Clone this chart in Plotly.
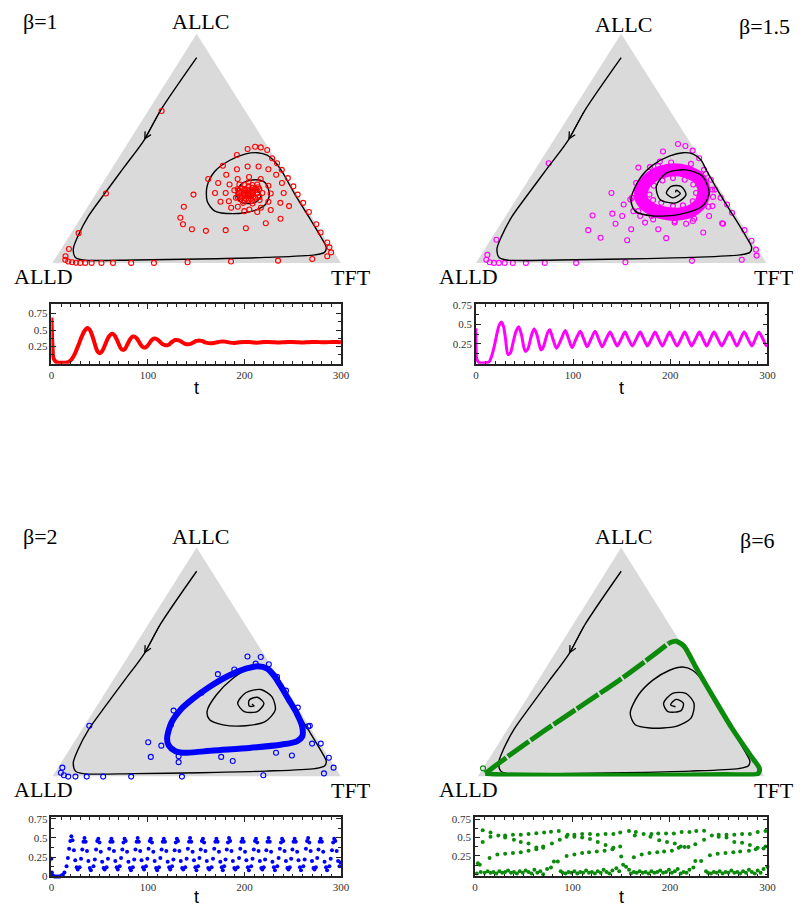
import plotly.graph_objects as go

# ---------------------------------------------------------------
# simplex data, every point is (share of ALLC, share of TFT);
# the share of ALLD is the remainder
# ---------------------------------------------------------------
corners = [(0.0, 0.0), (0.0, 1.0), (1.0, 0.0), (0.0, 0.0)]  # ALLD, TFT, ALLC

# deterministic orbit: common first arm (starts near ALLC)
arm = [(0.896, 0.052), (0.666, 0.042), (0.536, 0.05), (0.421, 0.04), (0.305, 0.03),
       (0.205, 0.023), (0.118, 0.03), (0.061, 0.042), (0.024, 0.068), (0.013, 0.10),
       (0.013, 0.278), (0.017, 0.503), (0.024, 0.727), (0.035, 0.892), (0.046, 0.92),
       (0.068, 0.915), (0.111, 0.876), (0.205, 0.784), (0.298, 0.692), (0.399, 0.596)]

spiral_b1 = [(0.438, 0.554), (0.470, 0.509), (0.481, 0.470), (0.476, 0.432), (0.447, 0.390),
             (0.399, 0.363), (0.334, 0.369), (0.269, 0.402), (0.226, 0.45), (0.215, 0.517),
             (0.226, 0.58), (0.255, 0.611), (0.298, 0.603), (0.349, 0.564), (0.363, 0.523),
             (0.349, 0.485), (0.305, 0.484), (0.265, 0.52), (0.262, 0.568), (0.291, 0.577),
             (0.320, 0.545), (0.313, 0.519), (0.291, 0.53), (0.300, 0.535)]

spiral_b15 = [(0.450, 0.549), (0.476, 0.508), (0.481, 0.472), (0.467, 0.434), (0.428, 0.396),
              (0.370, 0.38), (0.277, 0.395), (0.226, 0.435), (0.205, 0.508), (0.212, 0.595),
              (0.248, 0.656), (0.305, 0.65), (0.378, 0.591), (0.406, 0.52), (0.392, 0.459),
              (0.334, 0.454), (0.277, 0.495), (0.262, 0.558), (0.298, 0.574), (0.334, 0.539),
              (0.334, 0.505), (0.305, 0.503), (0.284, 0.536), (0.303, 0.552), (0.317, 0.531),
              (0.308, 0.533)]

spiral_b2 = [(0.45, 0.548), (0.481, 0.487), (0.471, 0.446), (0.428, 0.411), (0.356, 0.39),
             (0.284, 0.394), (0.248, 0.421), (0.226, 0.478), (0.222, 0.559), (0.241, 0.618),
             (0.291, 0.627), (0.349, 0.586), (0.380, 0.532), (0.366, 0.487), (0.320, 0.482),
             (0.284, 0.523), (0.284, 0.568), (0.320, 0.573), (0.346, 0.537), (0.334, 0.515),
             (0.308, 0.528), (0.308, 0.545), (0.317, 0.533)]

spiral_b6 = [(0.464, 0.517), (0.478, 0.475), (0.464, 0.437), (0.421, 0.4), (0.356, 0.382),
             (0.277, 0.393), (0.226, 0.436), (0.212, 0.494), (0.219, 0.582), (0.255, 0.616),
             (0.32, 0.594), (0.363, 0.544), (0.363, 0.498), (0.32, 0.488), (0.284, 0.521),
             (0.288, 0.565), (0.32, 0.557), (0.337, 0.523), (0.313, 0.516), (0.305, 0.537)]

# stochastic simulation, beta = 1 (red circles)
sim_b1 = [(0.663, 0.047), (0.303, 0.034), (0.130, 0.026), (0.061, 0.027), (0.029, 0.031),
          (0.014, 0.038), (0.006, 0.052), (0.003, 0.067), (0.001, 0.081), (0.0, 0.097),
          (0.0, 0.114), (0.0, 0.136), (0.0, 0.170), (0.0, 0.210), (0.0, 0.273), (0.0, 0.352),
          (0.003, 0.467), (0.006, 0.616), (0.010, 0.777), (0.017, 0.892), (0.029, 0.938),
          (0.046, 0.943), (0.068, 0.926), (0.089, 0.908), (0.133, 0.863), (0.169, 0.830),
          (0.222, 0.778), (0.262, 0.738), (0.298, 0.701), (0.334, 0.668), (0.370, 0.631),
          (0.406, 0.592), (0.435, 0.561), (0.457, 0.533), (0.493, 0.498), (0.504, 0.470),
          (0.507, 0.449), (0.497, 0.428), (0.471, 0.404), (0.424, 0.379), (0.366, 0.357),
          (0.298, 0.340), (0.245, 0.333), (0.197, 0.345), (0.169, 0.368), (0.147, 0.41),
          (0.140, 0.462), (0.143, 0.529), (0.151, 0.595), (0.173, 0.653), (0.193, 0.694),
          (0.248, 0.696),
          (0.349, 0.621), (0.305, 0.649), (0.262, 0.659), (0.231, 0.641), (0.222, 0.599),
          (0.226, 0.552), (0.241, 0.499), (0.267, 0.449), (0.305, 0.411), (0.349, 0.4),
          (0.385, 0.41), (0.409, 0.435), (0.421, 0.466), (0.421, 0.504), (0.409, 0.544),
          (0.385, 0.583),
          (0.303, 0.605), (0.267, 0.615), (0.241, 0.602), (0.233, 0.566), (0.245, 0.52),
          (0.269, 0.477), (0.305, 0.448), (0.342, 0.443), (0.366, 0.459), (0.375, 0.494),
          (0.366, 0.539), (0.337, 0.58),
          (0.305, 0.575), (0.274, 0.581), (0.259, 0.564), (0.262, 0.53), (0.284, 0.494),
          (0.317, 0.472), (0.342, 0.477), (0.352, 0.504), (0.342, 0.539),
          (0.288, 0.573), (0.270, 0.558), (0.270, 0.531), (0.288, 0.498), (0.322, 0.481),
          (0.340, 0.496), (0.340, 0.523), (0.322, 0.556),
          (0.305, 0.559), (0.285, 0.560), (0.276, 0.542), (0.285, 0.514), (0.305, 0.495),
          (0.325, 0.494), (0.334, 0.513), (0.325, 0.540),
          (0.305, 0.543), (0.295, 0.543), (0.291, 0.534), (0.295, 0.521), (0.305, 0.511),
          (0.315, 0.511), (0.319, 0.520), (0.315, 0.533), (0.305, 0.527), (0.300, 0.527),
          (0.300, 0.545), (0.290, 0.551), (0.280, 0.531), (0.290, 0.505), (0.310, 0.500),
          (0.322, 0.505), (0.328, 0.530), (0.318, 0.548), (0.298, 0.515), (0.312, 0.540),
          (0.296, 0.535), (0.308, 0.518), (0.280, 0.548), (0.315, 0.490), (0.330, 0.548),
          (0.278, 0.512)]

# beta = 1.5 (magenta): dense band and scattered circles
band_b15 = [(0.291, 0.42), (0.349, 0.408), (0.389, 0.427), (0.406, 0.469), (0.399, 0.524),
            (0.370, 0.583), (0.320, 0.625), (0.262, 0.643), (0.226, 0.627), (0.212, 0.578),
            (0.226, 0.508), (0.255, 0.455), (0.291, 0.42)]
sim_b15 = [(0.435, 0.033), (0.101, 0.02), (0.035, 0.022), (0.014, 0.029), (0.003, 0.046),
           (0.0, 0.062), (0.0, 0.079), (0.0, 0.099), (0.0, 0.127), (0.0, 0.172), (0.0, 0.237),
           (0.0, 0.345), (0.003, 0.513), (0.009, 0.739), (0.014, 0.908), (0.032, 0.95),
           (0.058, 0.935), (0.097, 0.9), (0.143, 0.853), (0.219, 0.772), (0.255, 0.737),
           (0.173, 0.761), (0.284, 0.7), (0.320, 0.663), (0.363, 0.627), (0.406, 0.582),
           (0.457, 0.54), (0.490, 0.501), (0.510, 0.466), (0.519, 0.436), (0.486, 0.401),
           (0.416, 0.351), (0.424, 0.415), (0.305, 0.314), (0.207, 0.298), (0.143, 0.315),
           (0.110, 0.374), (0.099, 0.471), (0.147, 0.461), (0.215, 0.362), (0.205, 0.401),
           (0.171, 0.395), (0.147, 0.554), (0.108, 0.601), (0.171, 0.638), (0.133, 0.716),
           (0.171, 0.765), (0.288, 0.672), (0.183, 0.655), (0.183, 0.593), (0.176, 0.494),
           (0.277, 0.393), (0.255, 0.381), (0.205, 0.463), (0.226, 0.429), (0.205, 0.502),
           (0.205, 0.7), (0.248, 0.69), (0.320, 0.394), (0.442, 0.412),
           (0.284, 0.395), (0.349, 0.377), (0.418, 0.39), (0.438, 0.453), (0.432, 0.524),
           (0.389, 0.597), (0.320, 0.654), (0.245, 0.678), (0.193, 0.655), (0.176, 0.596),
           (0.190, 0.515), (0.226, 0.446),
           (0.298, 0.448), (0.337, 0.444), (0.360, 0.462), (0.370, 0.493), (0.363, 0.537),
           (0.342, 0.577), (0.305, 0.605), (0.269, 0.612), (0.251, 0.587), (0.248, 0.554),
           (0.262, 0.507), (0.274, 0.473)]

# beta = 2 (blue): limit cycle and scattered circles
band_b2 = [(0.169, 0.313), (0.233, 0.295), (0.291, 0.298), (0.341, 0.318), (0.392, 0.349),
           (0.442, 0.393), (0.471, 0.435), (0.481, 0.47), (0.471, 0.509), (0.442, 0.546),
           (0.399, 0.59), (0.337, 0.65), (0.277, 0.708), (0.219, 0.756), (0.176, 0.778),
           (0.154, 0.77), (0.140, 0.725), (0.125, 0.62), (0.114, 0.5), (0.104, 0.414),
           (0.111, 0.371), (0.135, 0.336), (0.169, 0.313)]
sim_b2 = [(0.222, 0.017), (0.039, 0.015), (0.017, 0.021), (0.006, 0.037), (0.0, 0.055),
          (0.0, 0.08), (0.0, 0.119), (0.0, 0.176), (0.0, 0.273), (0.0, 0.449), (0.006, 0.728),
          (0.014, 0.934), (0.039, 0.955), (0.082, 0.917), (0.144, 0.858), (0.144, 0.828),
          (0.222, 0.781), (0.092, 0.784), (0.104, 0.723), (0.068, 0.591), (0.086, 0.542),
          (0.063, 0.406), (0.089, 0.393), (0.086, 0.298), (0.150, 0.257), (0.135, 0.31),
          (0.288, 0.276), (0.226, 0.298), (0.366, 0.334), (0.447, 0.35), (0.467, 0.397),
          (0.524, 0.414), (0.522, 0.461), (0.493, 0.458), (0.490, 0.505), (0.435, 0.561),
          (0.375, 0.622), (0.301, 0.7), (0.219, 0.777)]

# beta = 6 (green): limit cycle near the border
side_b6 = [(0.014, 0.019), (0.092, 0.063), (0.202, 0.133), (0.308, 0.206), (0.424, 0.285),
           (0.529, 0.347), (0.582, 0.375)]
band_b6 = [(0.582, 0.375), (0.591, 0.396), (0.568, 0.436), (0.478, 0.521), (0.356, 0.639),
           (0.212, 0.78), (0.097, 0.9), (0.035, 0.965), (0.013, 0.971), (0.009, 0.858),
           (0.006, 0.631), (0.006, 0.288), (0.009, 0.058), (0.014, 0.019)]
sim_b6 = [(0.036, 0.0)]

# ---------------------------------------------------------------
# time series (t, value)
# ---------------------------------------------------------------
ts_b1 = [(0, 0.69), (1, 0.30), (2, 0.08), (4, 0.03), (6, 0.01), (8, 0.005), (10, 0.005),
         (12, 0.005), (14, 0.005), (16, 0.01), (18, 0.02), (20, 0.04), (22, 0.08), (24, 0.13),
         (26, 0.20), (28, 0.27), (30, 0.35), (32, 0.42), (34, 0.48), (36, 0.52), (38, 0.53),
         (40, 0.50), (42, 0.43), (44, 0.34), (46, 0.24), (48, 0.17), (50, 0.15), (52, 0.17),
         (54, 0.22), (56, 0.29), (58, 0.36), (60, 0.41), (62, 0.44), (64, 0.44), (66, 0.41),
         (68, 0.35), (70, 0.28), (72, 0.22), (74, 0.20), (76, 0.21), (78, 0.26), (80, 0.32),
         (82, 0.37), (84, 0.40), (86, 0.40), (88, 0.38), (90, 0.34), (92, 0.29), (94, 0.25),
         (96, 0.235), (98, 0.24), (100, 0.27), (102, 0.31), (104, 0.35), (106, 0.37),
         (108, 0.37), (110, 0.355), (112, 0.33), (114, 0.30), (116, 0.28), (118, 0.27),
         (120, 0.27), (122, 0.28), (124, 0.31), (126, 0.33), (128, 0.35), (130, 0.35),
         (132, 0.345), (134, 0.33), (136, 0.31), (138, 0.295), (140, 0.285), (142, 0.285),
         (144, 0.29), (146, 0.305), (148, 0.32), (150, 0.335), (152, 0.34), (154, 0.34),
         (156, 0.335), (158, 0.32), (160, 0.31), (165, 0.30), (170, 0.31), (175, 0.325),
         (180, 0.325), (185, 0.31), (190, 0.305), (195, 0.315), (200, 0.32), (205, 0.32),
         (210, 0.31), (215, 0.31), (220, 0.32), (225, 0.32), (230, 0.315), (235, 0.31),
         (240, 0.315), (245, 0.32), (250, 0.32), (255, 0.315), (260, 0.31), (265, 0.315),
         (270, 0.32), (275, 0.32), (280, 0.315), (285, 0.315), (290, 0.32), (295, 0.32),
         (300, 0.315)]

ts_b15 = [(0, 0.45), (1, 0.05), (3, 0.005), (6, 0.0), (9, 0.0), (12, 0.005), (14, 0.02),
          (16, 0.08), (18, 0.17), (20, 0.28), (22, 0.40), (24, 0.49), (26.4, 0.53), (28.5, 0.47),
          (30.5, 0.31), (33, 0.11), (35.5, 0.13), (38, 0.25), (41, 0.40), (44, 0.47), (47, 0.36),
          (49, 0.22), (51, 0.15), (53.5, 0.18), (56, 0.30), (58, 0.39), (60, 0.44), (62.5, 0.38),
          (65, 0.25), (67, 0.17), (69.5, 0.21), (72, 0.32), (74, 0.40), (76, 0.43),
          (79.5, 0.30), (83, 0.19), (87.5, 0.30), (92, 0.42), (95.5, 0.31), (99, 0.20),
          (103, 0.31), (107.4, 0.41), (111, 0.31), (114.5, 0.21), (118.5, 0.31), (122.6, 0.41),
          (126.3, 0.31), (130, 0.21), (134, 0.31), (138, 0.40), (141.7, 0.31), (145.5, 0.22),
          (149.5, 0.31), (153.4, 0.40), (157, 0.31), (161, 0.22), (165, 0.31), (169, 0.40),
          (172.7, 0.31), (176.5, 0.22), (180.5, 0.31), (184.5, 0.40), (188, 0.31), (192, 0.22),
          (195.6, 0.31), (199.3, 0.40), (203, 0.31), (207, 0.22), (211, 0.31), (214.9, 0.40),
          (218.5, 0.31), (222, 0.22), (226, 0.31), (230, 0.40), (233.7, 0.31), (237.5, 0.22),
          (241.2, 0.31), (245, 0.40), (249, 0.31), (253, 0.22), (257, 0.31), (261, 0.40),
          (264.8, 0.31), (268.5, 0.22), (272.2, 0.31), (276, 0.40), (280, 0.31), (284, 0.22),
          (287.5, 0.31), (291, 0.40), (295, 0.32), (298, 0.24), (300, 0.22)]

ts_b2 = [(0, 0.23), (0.5, 0.05), (1.5, 0.01), (3, 0.0), (4.5, 0.0), (6, 0.0), (7.5, 0.0),
         (9, 0.0), (10.5, 0.01), (12, 0.02), (13.5, 0.05),
         (15.7, 0.13), (17.1, 0.24), (18.4, 0.36), (19.6, 0.46), (20.7, 0.52), (21.9, 0.47),
         (23.3, 0.34), (24.7, 0.21), (26.2, 0.12), (27.3, 0.09),
         (29.3, 0.12), (30.7, 0.23), (32.0, 0.35), (33.2, 0.45), (34.3, 0.50), (35.5, 0.45),
         (36.9, 0.33), (38.3, 0.20), (39.8, 0.11), (40.9, 0.08),
         (43.6, 0.13), (45.0, 0.22), (46.3, 0.35), (47.5, 0.46), (48.6, 0.49), (49.8, 0.44),
         (51.2, 0.32), (52.6, 0.19), (54.1, 0.11), (55.2, 0.09),
         (57.2, 0.12), (58.6, 0.23), (59.9, 0.36), (61.1, 0.45), (62.2, 0.49), (63.4, 0.45),
         (64.8, 0.33), (66.2, 0.20), (67.7, 0.12), (68.8, 0.09),
         (70.8, 0.13), (72.2, 0.24), (73.5, 0.35), (74.7, 0.44), (75.8, 0.49), (77.0, 0.46),
         (78.4, 0.32), (79.8, 0.19), (81.3, 0.11), (82.4, 0.08),
         (84.4, 0.12), (85.8, 0.22), (87.1, 0.35), (88.3, 0.45), (89.4, 0.50), (90.6, 0.45),
         (92.0, 0.33), (93.4, 0.21), (94.9, 0.12), (96.0, 0.09),
         (98.0, 0.13), (99.4, 0.23), (100.7, 0.36), (101.9, 0.46), (103.0, 0.49), (104.2, 0.44),
         (105.6, 0.32), (107.0, 0.20), (108.5, 0.11), (109.6, 0.08),
         (111.5, 0.12), (112.9, 0.24), (114.2, 0.35), (115.4, 0.45), (116.5, 0.49), (117.7, 0.45),
         (119.1, 0.33), (120.5, 0.19), (122.0, 0.12), (123.1, 0.09),
         (125.0, 0.13), (126.4, 0.22), (127.7, 0.34), (128.9, 0.44), (130.0, 0.49), (131.2, 0.46),
         (132.6, 0.33), (134.0, 0.20), (135.5, 0.11), (136.6, 0.09),
         (138.7, 0.12), (140.1, 0.23), (141.4, 0.36), (142.6, 0.45), (143.7, 0.50), (144.9, 0.45),
         (146.3, 0.32), (147.7, 0.21), (149.2, 0.12), (150.3, 0.08),
         (152.0, 0.13), (153.4, 0.24), (154.7, 0.35), (155.9, 0.46), (157.0, 0.49), (158.2, 0.44),
         (159.6, 0.33), (161.0, 0.20), (162.5, 0.11), (163.6, 0.09),
         (166.0, 0.12), (167.4, 0.23), (168.7, 0.36), (169.9, 0.45), (171.0, 0.49), (172.2, 0.45),
         (173.6, 0.32), (175.0, 0.19), (176.5, 0.12), (177.6, 0.08),
         (179.0, 0.13), (180.4, 0.22), (181.7, 0.35), (182.9, 0.44), (184.0, 0.50), (185.2, 0.46),
         (186.6, 0.33), (188.0, 0.20), (189.5, 0.11), (190.6, 0.09),
         (193.0, 0.12), (194.4, 0.24), (195.7, 0.36), (196.9, 0.45), (198.0, 0.49), (199.2, 0.45),
         (200.6, 0.32), (202.0, 0.21), (203.5, 0.12), (204.6, 0.08),
         (207.0, 0.13), (208.4, 0.23), (209.7, 0.35), (210.9, 0.46), (212.0, 0.49), (213.2, 0.44),
         (214.6, 0.33), (216.0, 0.20), (217.5, 0.11), (218.6, 0.09),
         (220.0, 0.12), (221.4, 0.22), (222.7, 0.34), (223.9, 0.45), (225.0, 0.50), (226.2, 0.45),
         (227.6, 0.32), (229.0, 0.19), (230.5, 0.12), (231.6, 0.08),
         (234.0, 0.13), (235.4, 0.24), (236.7, 0.36), (237.9, 0.44), (239.0, 0.49), (240.2, 0.46),
         (241.6, 0.33), (243.0, 0.20), (244.5, 0.11), (245.6, 0.09),
         (247.0, 0.12), (248.4, 0.23), (249.7, 0.35), (250.9, 0.45), (252.0, 0.49), (253.2, 0.45),
         (254.6, 0.32), (256.0, 0.21), (257.5, 0.12), (258.6, 0.08),
         (261.0, 0.13), (262.4, 0.22), (263.7, 0.36), (264.9, 0.46), (266.0, 0.50), (267.2, 0.44),
         (268.6, 0.33), (270.0, 0.20), (271.5, 0.11), (272.6, 0.09),
         (274.0, 0.12), (275.4, 0.24), (276.7, 0.35), (277.9, 0.45), (279.0, 0.49), (280.2, 0.45),
         (281.6, 0.32), (283.0, 0.19), (284.5, 0.12), (285.6, 0.08),
         (288.0, 0.13), (289.4, 0.23), (290.7, 0.34), (291.9, 0.44), (293.0, 0.49), (294.2, 0.46),
         (295.6, 0.33), (297.0, 0.20), (298.5, 0.13), (299.6, 0.18)]

ts_b6_top = [(8, 0.60), (16, 0.57), (24, 0.53), (31, 0.53), (39, 0.54), (47, 0.54), (55, 0.55),
             (63, 0.56), (71, 0.57), (78, 0.58), (86, 0.59), (94, 0.51), (102, 0.54), (110, 0.55),
             (118, 0.55), (126, 0.54), (134, 0.55), (142, 0.55), (149, 0.57), (158, 0.59),
             (165, 0.575), (173, 0.55), (181, 0.55), (188, 0.555), (196, 0.555), (204, 0.555),
             (212, 0.575), (220, 0.575), (227, 0.59), (235, 0.595), (243, 0.53), (250, 0.54),
             (258, 0.54), (266, 0.54), (274, 0.55), (282, 0.55), (290, 0.575), (298, 0.59)]
ts_b6_mid = [(8, 0.44), (16, 0.51), (31, 0.50), (40, 0.47), (47, 0.44), (55, 0.42), (63, 0.365),
             (70, 0.38), (79, 0.42), (87, 0.47), (95, 0.54), (102, 0.51), (110, 0.50), (118, 0.48),
             (126, 0.44), (134, 0.40), (142, 0.36), (149, 0.38), (164, 0.53), (180, 0.51),
             (189, 0.465), (197, 0.44), (205, 0.42), (211, 0.38), (219, 0.37), (226, 0.41),
             (235, 0.47), (250, 0.51), (258, 0.50), (266, 0.44), (274, 0.43), (282, 0.40),
             (290, 0.36), (298, 0.38)]
ts_b6_rise = [(15, 0.22), (23, 0.27), (31, 0.28), (39, 0.29), (47, 0.30), (55, 0.32), (63, 0.34),
              (70, 0.36), (94, 0.25), (102, 0.27), (110, 0.29), (117, 0.30), (125, 0.31),
              (133, 0.32), (141, 0.34), (150, 0.24), (163, 0.23), (171, 0.27), (179, 0.29),
              (187, 0.30), (194, 0.31), (202, 0.32), (209, 0.36), (215, 0.37), (241, 0.26),
              (249, 0.28), (257, 0.29), (265, 0.30), (272, 0.31), (281, 0.32), (288, 0.34),
              (296, 0.35)]
ts_b6_low = [(3, 0.15), (5, 0.13), (78, 0.09), (81, 0.175), (85, 0.175), (88, 0.04), (145, 0.08),
             (152, 0.13), (155, 0.10), (158, 0.06), (224, 0.09), (226, 0.18), (232, 0.18),
             (237, 0.04), (300, 0.10)]
ts_b6_floor = [(2, 0.01), (6, 0.03), (10, 0.02), (13, 0.04), (16, 0.02), (19, 0.03), (22, 0.01),
               (25, 0.04), (28, 0.02), (31, 0.03), (34, 0.05), (37, 0.02), (40, 0.03), (43, 0.01),
               (46, 0.04), (49, 0.02), (52, 0.05), (55, 0.03), (58, 0.01), (61, 0.06), (64, 0.02),
               (67, 0.04), (70, 0.00), (74, 0.07), (90, 0.02), (93, 0.01), (96, 0.03), (99, 0.02),
               (102, 0.04), (105, 0.01), (108, 0.03), (111, 0.02), (114, 0.05), (117, 0.02),
               (120, 0.03), (123, 0.01), (126, 0.04), (129, 0.02), (132, 0.06), (135, 0.03),
               (138, 0.01), (141, 0.05), (148, 0.04), (160, 0.01), (163, 0.03), (166, 0.02),
               (169, 0.04), (172, 0.02), (175, 0.03), (178, 0.01), (181, 0.04), (184, 0.02),
               (187, 0.03), (190, 0.05), (193, 0.02), (196, 0.03), (199, 0.06), (202, 0.02),
               (205, 0.04), (208, 0.07), (211, 0.01), (214, 0.03), (217, 0.02), (220, 0.06),
               (239, 0.02), (242, 0.01), (245, 0.03), (248, 0.02), (251, 0.04), (254, 0.01),
               (257, 0.03), (260, 0.02), (263, 0.05), (266, 0.02), (269, 0.03), (272, 0.01),
               (275, 0.04), (278, 0.02), (281, 0.06), (284, 0.03), (287, 0.01), (290, 0.05),
               (293, 0.02), (296, 0.07)]

t_ticks = [0, 100, 200, 300]
RED, MAGENTA, BLUE, GREEN = '#ff0000', '#ff00ff', '#0000ff', '#0b8a0b'
SERIF = 'Liberation Serif'

# the page body keeps an 8px margin, so the figure is drawn 8px smaller
# and every reference pixel position is shifted by that offset
FIG_W, FIG_H, OFF = 798, 905, 8


def px(x):
    return (x - OFF) / FIG_W


def py(y):
    return 1 - (y - OFF) / FIG_H


def simplex_xy(points):
    """ternary shares -> position inside the triangle"""
    xs = [tft + allc / 2 for allc, tft in points]
    ys = [allc for allc, tft in points]
    return xs, ys


def unzip(pairs):
    return [p[0] for p in pairs], [p[1] for p in pairs]


fig = go.Figure()

# axis ids: triangles 1..4, time series 5..8  (boxes in reference pixels: left, right, top, bottom)
tri_box = {1: (50, 343, 29, 261), 2: (480, 775, 29, 261),
           3: (50, 343, 549, 781), 4: (482, 773, 549, 781)}
ts_box = {5: (49, 343, 303, 363), 6: (480, 776, 303, 363),
          7: (49, 343, 822, 882), 8: (479, 776, 822, 882)}


def ax(i):
    return ('x' if i == 1 else f'x{i}'), ('y' if i == 1 else f'y{i}')


def add_triangle(i):
    xa, ya = ax(i)
    x, y = simplex_xy(corners)
    fig.add_trace(go.Scatter(x=x, y=y, fill='toself', fillcolor='#dadada', mode='lines',
                             line=dict(width=0), xaxis=xa, yaxis=ya, hoverinfo='skip'))


def add_orbit(i, spiral):
    xa, ya = ax(i)
    x, y = simplex_xy(arm + spiral)
    fig.add_trace(go.Scatter(x=x, y=y, mode='lines', line=dict(color='black', width=1.4, shape='spline',
                             smoothing=0.8), xaxis=xa, yaxis=ya, hoverinfo='skip'))
    tip_x, tip_y = simplex_xy([arm[2]])
    tail_x, tail_y = simplex_xy([arm[1]])
    fig.add_annotation(x=tip_x[0], y=tip_y[0], ax=tail_x[0], ay=tail_y[0], xref=xa, yref=ya,
                       axref=xa, ayref=ya, text='', showarrow=True, arrowhead=5, arrowsize=1.3,
                       arrowwidth=1, arrowcolor='black')


def add_circles(i, pts, color):
    xa, ya = ax(i)
    x, y = simplex_xy(pts)
    fig.add_trace(go.Scatter(x=x, y=y, mode='markers', cliponaxis=False,
                             marker=dict(symbol='circle-open', size=5, color=color, line=dict(width=1.1)),
                             xaxis=xa, yaxis=ya, hoverinfo='skip'))


def add_band(i, pts, color, width, dash='solid'):
    xa, ya = ax(i)
    x, y = simplex_xy(pts)
    fig.add_trace(go.Scatter(x=x, y=y, mode='lines', line=dict(color=color, width=width, dash=dash,
                             shape='spline', smoothing=0.7), xaxis=xa, yaxis=ya, hoverinfo='skip'))


# beta = 1
add_triangle(1)
add_orbit(1, spiral_b1)
add_circles(1, sim_b1, RED)
# beta = 1.5
add_triangle(2)
add_band(2, band_b15, MAGENTA, 13)
add_circles(2, sim_b15, MAGENTA)
add_orbit(2, spiral_b15)
# beta = 2
add_triangle(3)
add_orbit(3, spiral_b2)
add_band(3, band_b2, BLUE, 6)
add_circles(3, sim_b2, BLUE)
# beta = 6
add_triangle(4)
add_orbit(4, spiral_b6)
add_band(4, band_b6, GREEN, 5)
add_band(4, side_b6, GREEN, 5, dash='26px,2px')
add_circles(4, sim_b6, GREEN)

# time series
t, v = unzip(ts_b1)
fig.add_trace(go.Scatter(x=t, y=v, mode='lines', line=dict(color=RED, width=4, shape='spline', smoothing=0.6),
                         xaxis='x5', yaxis='y5', hoverinfo='skip'))
t, v = unzip(ts_b15)
fig.add_trace(go.Scatter(x=t, y=v, mode='lines', line=dict(color=MAGENTA, width=3, shape='spline', smoothing=0.8),
                         xaxis='x6', yaxis='y6', hoverinfo='skip'))
t, v = unzip(ts_b2)
fig.add_trace(go.Scatter(x=t, y=v, mode='markers', marker=dict(color=BLUE, size=4), cliponaxis=False,
                         xaxis='x7', yaxis='y7', hoverinfo='skip'))
t, v = unzip(ts_b6_top + ts_b6_mid + ts_b6_rise + ts_b6_low + ts_b6_floor)
fig.add_trace(go.Scatter(x=t, y=v, mode='markers', marker=dict(color=GREEN, size=4), cliponaxis=False,
                         xaxis='x8', yaxis='y8', hoverinfo='skip'))

layout = dict(width=FIG_W, height=FIG_H, margin=dict(l=0, r=0, t=0, b=0), showlegend=False,
              paper_bgcolor='white', plot_bgcolor='rgba(0,0,0,0)')

for i, (l, r, top, bot) in tri_box.items():
    k = '' if i == 1 else str(i)
    layout[f'xaxis{k}'] = dict(domain=[px(l), px(r)], range=[0, 1], visible=False, anchor=f'y{k}')
    layout[f'yaxis{k}'] = dict(domain=[py(bot), py(top)], range=[0, 1], visible=False, anchor=f'x{k}')

y_setup = {5: ([-0.01, 0.89], [0.25, 0.5, 0.75]), 6: ([-0.01, 0.76], [0.25, 0.5, 0.75]),
           7: ([0, 0.77], [0, 0.25, 0.5, 0.75]), 8: ([-0.03, 0.78], [0.25, 0.5, 0.75])}
tick_font = dict(family=SERIF, size=11, color='#333')
for i, (l, r, top, bot) in ts_box.items():
    yr, yt = y_setup[i]
    layout[f'xaxis{i}'] = dict(domain=[px(l), px(r)], range=[0, 300], anchor=f'y{i}', tickvals=t_ticks,
                               ticks='inside', ticklen=5, tickcolor='#222', showline=True,
                               linecolor='#222', linewidth=1.5, mirror='ticks', showgrid=False,
                               zeroline=False, tickfont=tick_font,
                               minor=dict(dtick=10, ticks='inside', ticklen=3, tickcolor='#222'))
    layout[f'yaxis{i}'] = dict(domain=[py(bot), py(top)], range=yr, anchor=f'x{i}', tickvals=yt,
                               ticks='inside', ticklen=5, tickcolor='#222', showline=True,
                               linecolor='#222', linewidth=1.5, mirror='ticks', showgrid=False,
                               zeroline=False, tickfont=tick_font,
                               minor=dict(dtick=0.125, ticks='inside', ticklen=3, tickcolor='#222'))

fig.update_layout(**layout)

labels = [('β=1', 38, 17), ('ALLC', 200, 17), ('ALLD', 41, 275), ('TFT', 353, 276),
          ('β=1.5', 773, 22), ('ALLC', 630, 20), ('ALLD', 472, 275), ('TFT', 783, 276),
          ('β=2', 38, 538), ('ALLC', 200, 538), ('ALLD', 41, 794), ('TFT', 353, 795),
          ('β=6', 766, 542), ('ALLC', 630, 538), ('ALLD', 472, 794), ('TFT', 783, 795)]
for text, x, y in labels:
    fig.add_annotation(text=text, x=px(x), y=py(y), xref='paper', yref='paper', showarrow=False,
                       xanchor='center', yanchor='middle', font=dict(family=SERIF, size=22, color='black'))

for x, y in [(196, 388), (628, 388)]:
    fig.add_annotation(text='t', x=px(x), y=py(y), xref='paper', yref='paper', showarrow=False,
                       xanchor='center', yanchor='middle',
                       font=dict(family='Liberation Sans', size=18, color='black'))
for x in [196, 628]:
    fig.add_annotation(text='t', x=px(x), y=0, xref='paper', yref='paper', showarrow=False,
                       xanchor='center', yanchor='bottom', yshift=-2,
                       font=dict(family='Liberation Sans', size=18, color='black'))

fig.write_html("out.html")
